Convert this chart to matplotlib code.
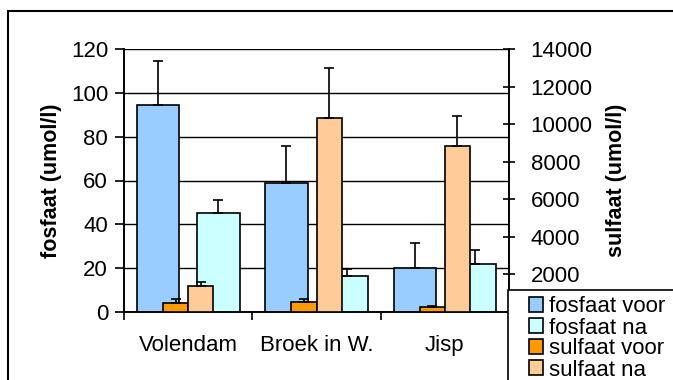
import matplotlib.pyplot as plt
import matplotlib.patches as mpatches
import numpy as np

# Data
locaties = ['Volendam', 'Broek in W.', 'Jisp']
fosfaat_voor = [94.5, 59, 20]
fosfaat_voor_err = [20, 17, 11.5]
fosfaat_na = [45, 16.5, 22]
fosfaat_na_err = [6.3, 3, 6]
sulfaat_voor = [450, 530, 240]
sulfaat_voor_err = [210, 130, 90]
sulfaat_na = [1390, 10350, 8850]
sulfaat_na_err = [210, 2670, 1600]

kleuren = ['#99CCFF', '#CCFFFF', '#FF9900', '#FFCC99']


def main():
    plt.rcParams['font.family'] = ['Liberation Sans', 'DejaVu Sans']
    fig = plt.figure(figsize=(6.73, 3.8), dpi=100)
    ax = fig.add_axes([124 / 673, 1 - 311.7 / 380, 385 / 673, 262.4 / 380])
    ax2 = ax.twinx()

    x = np.arange(len(locaties))
    zero = np.zeros(len(x))
    ekw = dict(fmt='none', ecolor='black', elinewidth=1.2, capsize=3.5, capthick=1.2)

    # primary axis: fosfaat
    ax.bar(x - 0.235, fosfaat_voor, 0.33, color=kleuren[0], edgecolor='black', linewidth=1.2, zorder=3)
    ax.errorbar(x - 0.235, fosfaat_voor, yerr=[zero, fosfaat_voor_err], zorder=4, **ekw)
    ax.bar(x + 0.235, fosfaat_na, 0.33, color=kleuren[1], edgecolor='black', linewidth=1.2, zorder=3)
    ax.errorbar(x + 0.235, fosfaat_na, yerr=[zero, fosfaat_na_err], zorder=4, **ekw)

    # secondary axis: sulfaat
    ax2.bar(x - 0.0975, sulfaat_voor, 0.195, color=kleuren[2], edgecolor='black', linewidth=1.2, zorder=3)
    ax2.errorbar(x - 0.0975, sulfaat_voor, yerr=[zero, sulfaat_voor_err], zorder=4, **ekw)
    ax2.bar(x + 0.0975, sulfaat_na, 0.195, color=kleuren[3], edgecolor='black', linewidth=1.2, zorder=3)
    ax2.errorbar(x + 0.0975, sulfaat_na, yerr=[zero, sulfaat_na_err], zorder=4, **ekw)

    ax.set_xlim(-0.5, 2.5)
    ax.set_ylim(0, 120)
    ax.set_yticks(range(0, 121, 20))
    ax2.set_ylim(0, 14000)
    ax2.set_yticks(range(2000, 14001, 2000))

    ax.set_xticks([-0.5, 0.5, 1.5, 2.5])
    ax.set_xticklabels([])
    ax.set_xticks(x, minor=True)
    ax.set_xticklabels(locaties, minor=True)
    ax.tick_params(axis='x', which='major', length=6, width=1.2, direction='out')
    ax.tick_params(axis='x', which='minor', length=0, pad=17, labelsize=16)
    ax.tick_params(axis='y', length=6.5, width=1.2, direction='out', pad=5, labelsize=16)
    ax2.tick_params(axis='y', length=9, width=1.2, direction='inout', pad=11, labelsize=16)

    ax.yaxis.grid(True, color='black', linewidth=1.0, zorder=0)
    ax.set_axisbelow(True)
    for a in (ax, ax2):
        a.spines['top'].set_visible(False)
        for s in ('left', 'right', 'bottom'):
            a.spines[s].set_linewidth(1.2)

    ax.set_ylabel('fosfaat (umol/l)', fontsize=15.5, fontweight='bold', labelpad=6)
    ax2.set_ylabel('sulfaat (umol/l)', fontsize=15.5, fontweight='bold', labelpad=10)

    # legend box runs past the figure edge, as in the original
    fig.add_artist(mpatches.Rectangle((508 / 673, -0.5), 1, 0.5 + 1 - 290 / 380, transform=fig.transFigure,
                                      facecolor='white', edgecolor='black', linewidth=1.2, zorder=5))
    handles = [mpatches.Patch(facecolor=c, edgecolor='black', linewidth=1.2) for c in kleuren]
    labels = ['fosfaat voor', 'fosfaat na', 'sulfaat voor', 'sulfaat na']
    leg = fig.legend(handles, labels, loc='upper left', bbox_to_anchor=(529 / 673, 1 - 296.5 / 380),
                     fontsize=16, frameon=False, labelspacing=0.0, handlelength=0.65,
                     handleheight=0.65, handletextpad=0.25, borderpad=0, borderaxespad=0)
    leg.set_zorder(6)

    # outer chart border
    fig.add_artist(mpatches.Rectangle((8 / 673, -0.5), 2, 0.5 + 1 - 11 / 380, transform=fig.transFigure,
                                      fill=False, edgecolor='black', linewidth=1.5))

    fig.savefig('out.png', dpi=100)


if __name__ == "__main__": main()
